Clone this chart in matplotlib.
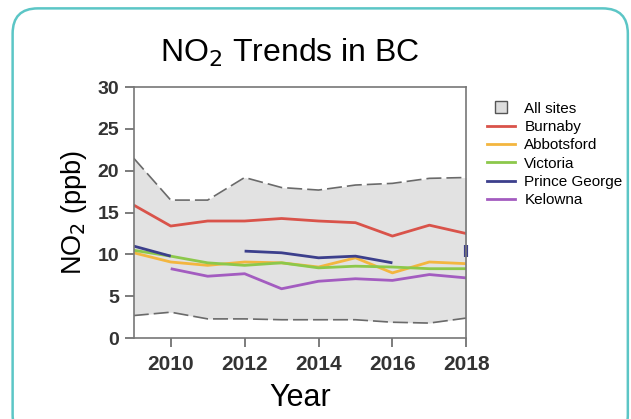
import numpy as np
import matplotlib.pyplot as plt
from matplotlib.patches import FancyBboxPatch
from matplotlib.lines import Line2D

plt.rcParams['font.family'] = ['Liberation Sans', 'DejaVu Sans']

# Data
years = [2009, 2010, 2011, 2012, 2013, 2014, 2015, 2016, 2017, 2018]
all_max = [21.5, 16.5, 16.5, 19.2, 18.0, 17.7, 18.3, 18.5, 19.1, 19.2]
all_min = [2.7, 3.1, 2.3, 2.3, 2.2, 2.2, 2.2, 1.9, 1.8, 2.4]
burnaby = [15.9, 13.4, 14.0, 14.0, 14.3, 14.0, 13.8, 12.2, 13.5, 12.5]
abbotsford = [10.2, 9.1, 8.7, 9.1, 9.0, 8.5, 9.6, 7.8, 9.1, 8.9]
victoria = [10.5, 9.8, 9.0, 8.7, 9.0, 8.4, 8.6, 8.5, 8.3, 8.3]
prince_george = [11.0, 9.8, np.nan, 10.4, 10.2, 9.6, 9.8, 9.0, np.nan, 10.4]
kelowna = [np.nan, 8.3, 7.4, 7.7, 5.9, 6.8, 7.1, 6.9, 7.6, 7.2]

site_names = ["Burnaby", "Abbotsford", "Victoria", "Prince George", "Kelowna"]
site_values = [burnaby, abbotsford, victoria, prince_george, kelowna]
site_colors = ["#d9534a", "#f3b63f", "#8cc84b", "#3c3f8c", "#a35cc0"]

fig = plt.figure(figsize=(6.31, 4.19), dpi=100)

# rounded teal frame
frame = FancyBboxPatch((0.02, -0.05), 0.975, 1.03, boxstyle="round,pad=0,rounding_size=0.04",
                       transform=fig.transFigure, facecolor="none", edgecolor="#5cc6c6",
                       linewidth=1.8, mutation_aspect=631 / 419, zorder=-10)
fig.patches.append(frame)

ax = fig.add_axes([0.212, 0.193, 0.527, 0.599])
ax.set_facecolor("white")

ax.fill_between(years, all_min, all_max, color="#e2e2e2", linewidth=0)
ax.plot(years, all_max, color="#6a6a6a", lw=1.2, dashes=(9, 3))
ax.plot(years, all_min, color="#6a6a6a", lw=1.2, dashes=(9, 3))

for name, vals, col in zip(site_names, site_values, site_colors):
    ax.plot(years, vals, color=col, lw=2, solid_capstyle="butt")
# isolated Prince George point in 2018
ax.plot(years[-1:], prince_george[-1:], marker="|", ms=9, mew=3, color=site_colors[3], clip_on=False)

ax.set_xlim(2009, 2018)
ax.set_ylim(0, 30)
ax.set_xticks([2010, 2012, 2014, 2016, 2018])
ax.set_yticks([0, 5, 10, 15, 20, 25, 30])
ax.tick_params(direction="out", length=6.5, width=1.2, color="#666666")
ax.tick_params(axis="x", labelsize=15, pad=6)
ax.tick_params(axis="y", labelsize=14, pad=4)
for lab in ax.get_xticklabels() + ax.get_yticklabels():
    lab.set_fontweight("bold")
    lab.set_color("#333333")
for s in ax.spines.values():
    s.set_color("#777777")
    s.set_linewidth(1.2)

ax.set_xlabel("Year", fontsize=22, labelpad=6)
ax.set_ylabel("NO$_2$ (ppb)", fontsize=19.5, labelpad=6)
fig.text(0.46, 0.875, "NO$_2$ Trends in BC", fontsize=23, ha="center", va="center")

handles = [Line2D([], [], ls="none", marker="s", ms=8.5, mfc="#dddddd", mec="#555555", mew=1)]
handles += [Line2D([0], [0], color=c, lw=2) for c in site_colors]
labels = ["All sites"] + site_names
fig.legend(handles, labels, loc="upper left", bbox_to_anchor=(0.75, 0.79), frameon=False,
           fontsize=11, handlelength=1.85, labelspacing=0.28, handletextpad=0.6)

fig.savefig("out.png", dpi=100)
